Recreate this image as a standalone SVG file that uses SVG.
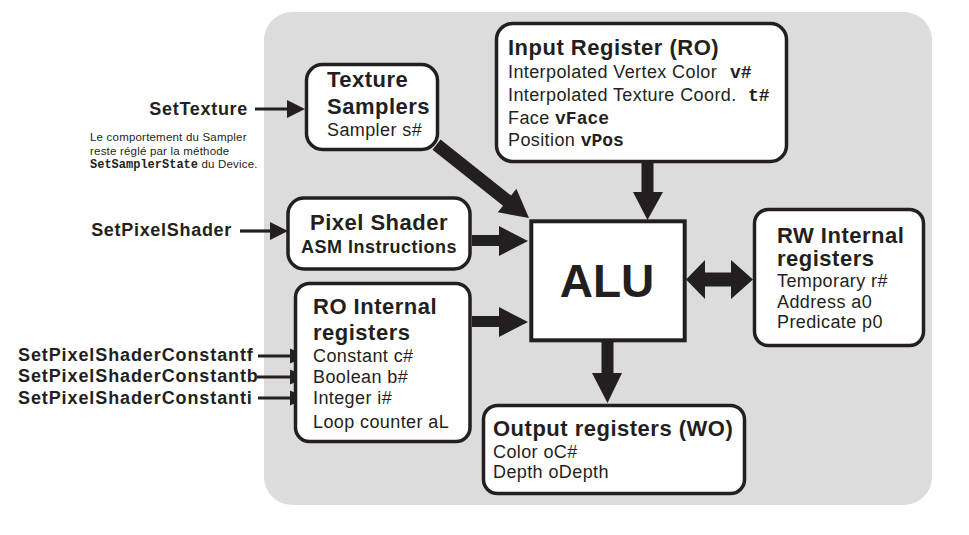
<svg xmlns="http://www.w3.org/2000/svg" width="969" height="535" viewBox="0 0 969 535">
  <defs>
    <style>
      .bg { fill: #dcdcdc; }
      .box { fill: #ffffff; stroke: #231f20; stroke-width: 3.5; }
      .alu { fill: #ffffff; stroke: #231f20; stroke-width: 4; }
      .arr { fill: #231f20; }
      .thin { stroke: #231f20; stroke-width: 3.2; fill: none; }
      text { font-family: "Liberation Sans", Arial, sans-serif; fill: #231f20; }
      .title { font-size: 22px; font-weight: bold; letter-spacing: 0.5px; }
      .sub { font-size: 18px; font-weight: bold; letter-spacing: 0.5px; }
      .reg { font-size: 18px; letter-spacing: 0.4px; }
      .mono { font-family: "Liberation Mono", "Courier New", monospace; font-weight: bold; letter-spacing: 0; }
      .api { font-size: 18px; font-weight: bold; letter-spacing: 0.7px; }
      .apic { font-size: 18px; font-weight: bold; letter-spacing: 0.9px; }
      .note { font-size: 11.5px; letter-spacing: 0.2px; }
      .alut { font-size: 46px; font-weight: bold; }
    </style>
  </defs>

  <rect class="bg" x="264" y="12" width="668" height="493" rx="28" ry="28"/>

  <g id="connectors">
    <!-- SetTexture -> Texture Samplers -->
    <line class="thin" x1="255" y1="109" x2="290" y2="109"/>
    <polygon class="arr" points="287,100 305,109 287,118"/>
    <!-- SetPixelShader -> Pixel Shader -->
    <line class="thin" x1="240" y1="231" x2="272" y2="231"/>
    <polygon class="arr" points="270,222 288,231 270,240"/>
    <!-- Constants -> RO internal -->
    <line class="thin" x1="258" y1="356" x2="293" y2="356"/>
    <polygon class="arr" points="290,348.5 307,356 290,363.5"/>
    <line class="thin" x1="257" y1="377" x2="293" y2="377"/>
    <polygon class="arr" points="290,369.5 307,377 290,384.5"/>
    <line class="thin" x1="258" y1="398" x2="293" y2="398"/>
    <polygon class="arr" points="290,390.5 307,398 290,405.5"/>
    <!-- Texture Samplers -> ALU (diagonal) -->
    <g transform="translate(529,218) rotate(38.4)">
      <polygon class="arr" points="0,0 -28,-15 -28,-6.5 -118,-6.5 -118,6.5 -28,6.5 -28,15"/>
    </g>
    <!-- Pixel Shader -> ALU -->
    <polygon class="arr" points="472,235 499,235 499,226 528,241 499,256 499,246 472,246"/>
    <!-- RO internal -> ALU -->
    <polygon class="arr" points="472,316 499,316 499,307 528,322 499,337 499,327 472,327"/>
    <!-- Input Register -> ALU -->
    <polygon class="arr" points="641.5,162 653.5,162 653.5,192 663,192 647.5,220 633,192 641.5,192"/>
    <!-- ALU -> Output -->
    <polygon class="arr" points="601.5,342 613.5,342 613.5,373 622,373 607.5,403 592,373 601.5,373"/>
    <!-- ALU <-> RW -->
    <polygon class="arr" points="686,279.5 705,260 705,272.5 731,272.5 731,260 753,279.5 731,299 731,286.5 705,286.5 705,299"/>
  </g>

  <g id="labels-left">
    <text class="api" x="248" y="115" text-anchor="end">SetTexture</text>
    <text class="note" x="90" y="141">Le comportement du Sampler</text>
    <text class="note" x="90" y="154.5">reste réglé par la méthode</text>
    <text class="note" x="90" y="168"><tspan class="mono" style="font-size:12px">SetSamplerState</tspan> du Device.</text>
    <text class="api" x="232" y="236" text-anchor="end">SetPixelShader</text>
    <text class="apic" x="18" y="361">SetPixelShaderConstantf</text>
    <text class="apic" x="18" y="382">SetPixelShaderConstantb</text>
    <text class="apic" x="18" y="404">SetPixelShaderConstanti</text>
  </g>

  <g id="texture-samplers">
    <rect class="box" x="306.5" y="64.5" width="131" height="85" rx="16"/>
    <text class="title" x="327" y="87">Texture</text>
    <text class="title" x="327" y="114">Samplers</text>
    <text class="reg" x="327" y="136">Sampler s#</text>
  </g>

  <g id="input-register">
    <rect class="box" x="496.5" y="23.5" width="290" height="138" rx="16"/>
    <text class="title" x="508" y="55">Input Register (RO)</text>
    <text class="reg" x="508" y="78">Interpolated Vertex Color <tspan class="mono" x="730">v#</tspan></text>
    <text class="reg" x="508" y="101">Interpolated Texture Coord. <tspan class="mono" x="748">t#</tspan></text>
    <text class="reg" x="508" y="124">Face <tspan class="mono">vFace</tspan></text>
    <text class="reg" x="508" y="146">Position <tspan class="mono">vPos</tspan></text>
  </g>

  <g id="pixel-shader">
    <rect class="box" x="288" y="198" width="182" height="71" rx="16"/>
    <text class="title" x="379" y="230" text-anchor="middle">Pixel Shader</text>
    <text class="sub" x="379" y="253" text-anchor="middle">ASM Instructions</text>
  </g>

  <g id="alu">
    <rect class="alu" x="531.3" y="221.3" width="153.4" height="119"/>
    <text class="alut" x="607" y="297" text-anchor="middle">ALU</text>
  </g>

  <g id="rw-internal">
    <rect class="box" x="754.5" y="209.5" width="169" height="136" rx="14"/>
    <text class="title" x="777" y="243">RW Internal</text>
    <text class="title" x="777" y="266">registers</text>
    <text class="reg" x="777" y="287">Temporary r#</text>
    <text class="reg" x="777" y="307.5">Address a0</text>
    <text class="reg" x="777" y="328">Predicate p0</text>
  </g>

  <g id="ro-internal">
    <rect class="box" x="295.5" y="283.5" width="174.5" height="158" rx="14"/>
    <text class="title" x="313" y="314">RO Internal</text>
    <text class="title" x="313" y="340">registers</text>
    <text class="reg" x="313" y="362">Constant c#</text>
    <text class="reg" x="313" y="383">Boolean b#</text>
    <text class="reg" x="313" y="404">Integer i#</text>
    <text class="reg" x="313" y="428">Loop counter aL</text>
  </g>

  <g id="output-registers">
    <rect class="box" x="483.5" y="405.5" width="261" height="88" rx="14"/>
    <text class="title" x="493" y="436">Output registers (WO)</text>
    <text class="reg" x="493" y="458">Color oC#</text>
    <text class="reg" x="493" y="478">Depth oDepth</text>
  </g>
</svg>
